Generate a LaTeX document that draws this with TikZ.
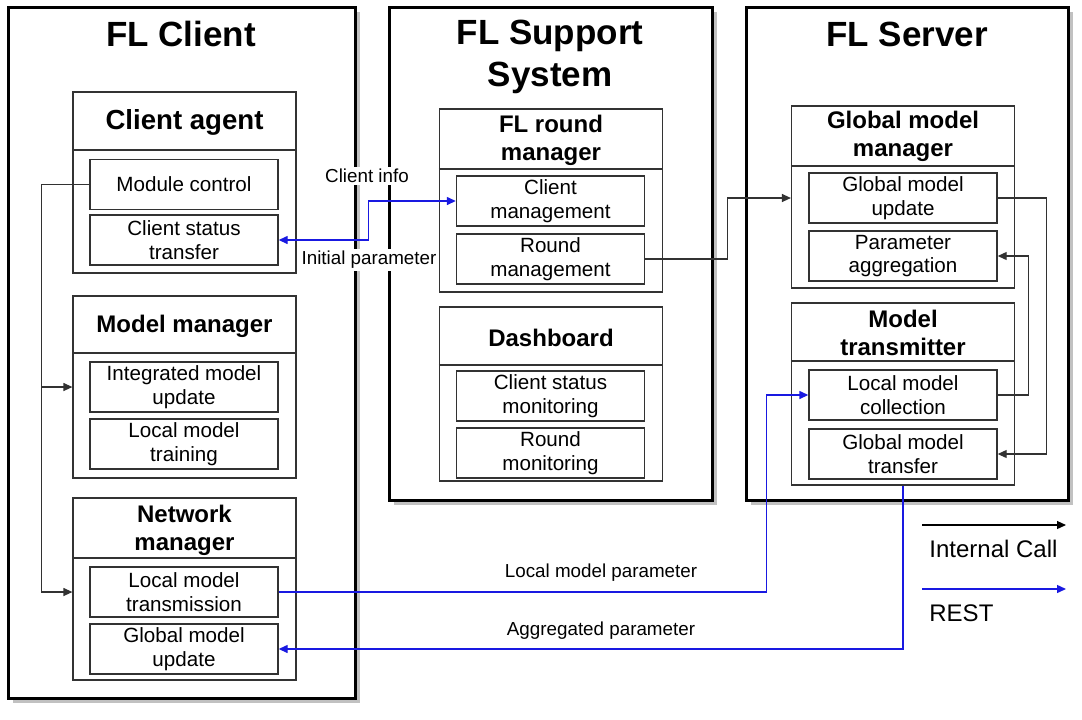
\documentclass[tikz,border=0pt]{standalone}
\usepackage{fontspec}
\setmainfont{Liberation Sans}
\usetikzlibrary{arrows.meta,shadows}
\definecolor{restblue}{RGB}{25,25,225}
\definecolor{linegray}{RGB}{50,50,50}
\tikzset{
  sysbox/.style={draw, line width=1.5pt, fill=white, inner sep=0pt,
    drop shadow={shadow xshift=2.5pt, shadow yshift=-2.5pt, fill=black!30, opacity=0.8}},
  modbox/.style={draw=black!80, line width=0.6pt, fill=white, inner sep=0pt, minimum width=111.5pt},
  unitbox/.style={draw=linegray, line width=0.7pt, inner sep=0pt, minimum width=94pt, minimum height=25pt,
    align=center, font=\fontsize{10.3}{11.7}\selectfont},
  systitle/.style={align=center, font=\bfseries\fontsize{17.5}{21}\selectfont},
  modtitle/.style={align=center, font=\bfseries\fontsize{12}{14}\selectfont},
  intcall/.style={draw=linegray, line width=0.6pt, -{Triangle[length=4.5pt,width=4pt]}},
  rest/.style={draw=restblue, line width=0.7pt, -{Triangle[length=4.5pt,width=4pt]}},
  flowlabel/.style={font=\fontsize{9.4}{11}\selectfont, inner sep=1pt},
  legendtext/.style={anchor=west, inner sep=0pt, font=\fontsize{12}{14}\selectfont}
}
\begin{document}
\begin{tikzpicture}[x=0.5pt, y=-0.5pt]
	\useasboundingbox (0,0) rectangle (1082,719);

	% systems
	\node [sysbox, minimum width=173.5pt, minimum height=345.5pt] (client) at ( 181.5, 352.5 ) {};
	\node [sysbox, minimum width=161.5pt, minimum height=246.5pt] (support) at ( 550.5, 253.5 ) {};
	\node [sysbox, minimum width=161pt, minimum height=246.5pt] (server) at ( 907, 253.5 ) {};
	\node [systitle] (clienttitle) at ( 181, 34 ) {FL Client};
	\node [systitle] (supporttitle) at ( 550, 57 ) {FL Support\\System};
	\node [systitle] (servertitle) at ( 907, 34 ) {FL Server};

	% FL Client
	\node [modbox, minimum height=90.5pt] (ca) at ( 184.5, 182.5 ) {};
	\draw [draw=black!80, line width=0.6pt] (ca.west |- 0,150) -- (ca.east |- 0,150);
	\node [align=center, font=\bfseries\fontsize{13.8}{16}\selectfont] (catitle) at ( 184.5, 122 ) {Client agent};
	\node [unitbox] (mc) at ( 184, 184.5 ) {Module control};
	\node [unitbox] (cst) at ( 184, 240 ) {Client status\\transfer};

	\node [modbox, minimum height=91pt] (mm) at ( 184.5, 387 ) {};
	\draw [draw=black!80, line width=0.6pt] (mm.west |- 0,353) -- (mm.east |- 0,353);
	\node [modtitle] (mmtitle) at ( 184.5, 326 ) {Model manager};
	\node [unitbox] (imu) at ( 184, 387 ) {Integrated model\\update};
	\node [unitbox] (lmtr) at ( 184, 444 ) {Local model\\training};

	\node [modbox, minimum height=91pt] (nm) at ( 184.5, 589 ) {};
	\draw [draw=black!80, line width=0.6pt] (nm.west |- 0,558) -- (nm.east |- 0,558);
	\node [modtitle] (nmtitle) at ( 184.5, 530 ) {Network\\manager};
	\node [unitbox] (lmtx) at ( 184, 592 ) {Local model\\transmission};
	\node [unitbox] (cgmu) at ( 184, 649 ) {Global model\\update};

	% FL Support System
	\node [modbox, minimum height=91.5pt] (frm) at ( 551, 200.5 ) {};
	\draw [draw=black!80, line width=0.6pt] (frm.west |- 0,169) -- (frm.east |- 0,169);
	\node [modtitle] (frmtitle) at ( 551, 140 ) {FL round\\manager};
	\node [unitbox] (cm) at ( 550.5, 201 ) {Client\\management};
	\node [unitbox] (rm) at ( 550.5, 259 ) {Round\\management};

	\node [modbox, minimum height=87pt] (db) at ( 551, 394 ) {};
	\draw [draw=black!80, line width=0.6pt] (db.west |- 0,365) -- (db.east |- 0,365);
	\node [modtitle] (dbtitle) at ( 551, 338 ) {Dashboard};
	\node [unitbox] (csm) at ( 550.5, 396 ) {Client status\\monitoring};
	\node [unitbox] (rmo) at ( 550.5, 453 ) {Round\\monitoring};

	% FL Server
	\node [modbox, minimum height=91pt] (gmm) at ( 903, 197 ) {};
	\draw [draw=black!80, line width=0.6pt] (gmm.west |- 0,166) -- (gmm.east |- 0,166);
	\node [modtitle] (gmmtitle) at ( 903, 136 ) {Global model\\manager};
	\node [unitbox] (gmup) at ( 903, 198 ) {Global model\\update};
	\node [unitbox] (pa) at ( 903, 256 ) {Parameter\\aggregation};

	\node [modbox, minimum height=91pt] (mt) at ( 903, 394 ) {};
	\draw [draw=black!80, line width=0.6pt] (mt.west |- 0,361) -- (mt.east |- 0,361);
	\node [modtitle] (mttitle) at ( 903, 333 ) {Model\\transmitter};
	\node [unitbox] (lmc) at ( 903, 395 ) {Local model\\collection};
	\node [unitbox] (gmt) at ( 903, 454 ) {Global model\\transfer};

	% internal calls
	\draw [intcall] (mc.west) -- ++(-48,0) |- (mm.west |- imu.west);
	\draw [intcall] (mc.west) -- ++(-48,0) |- (nm.west |- lmtx.west);
	\draw [intcall] (rm.east) -- ++(82,0) |- (gmm.west |- gmup.west);
	\draw [intcall] (gmup.east) -- ++(49,0) |- (gmt.east);
	\draw [intcall] (lmc.east) -- ++(31,0) |- (pa.east);

	% REST
	\draw [rest, {Triangle[length=4.5pt,width=4pt]}-{Triangle[length=4.5pt,width=4pt]}] (cst.east) -- ++(90,0) |- (cm.west);
	\draw [rest] (lmtx.east) -| ([xshift=-21pt]lmc.west) -- (lmc.west);
	\draw [rest] (mt.south) |- (cgmu.east);
	\node [flowlabel, fill=white] (infolabel) at ( 367, 176 ) {Client info};
	\node [flowlabel, fill=white] (paramlabel) at ( 369, 260 ) {Initial parameter};
	\node [flowlabel] (lmplabel) at ( 601, 573 ) {Local model parameter};
	\node [flowlabel] (agglabel) at ( 601, 631 ) {Aggregated parameter};

	% legend
	\coordinate (intfrom) at ( 922, 525 );
	\coordinate (intto) at ( 1066, 525 );
	\coordinate (restfrom) at ( 922, 589 );
	\coordinate (restto) at ( 1066, 589 );
	\draw [intcall, draw=black] (intfrom) -- (intto);
	\draw [rest] (restfrom) -- (restto);
	\node [legendtext] (intlabel) at ( 929, 549 ) {Internal Call};
	\node [legendtext] (restlabel) at ( 929, 613 ) {REST};
\end{tikzpicture}
\end{document}
